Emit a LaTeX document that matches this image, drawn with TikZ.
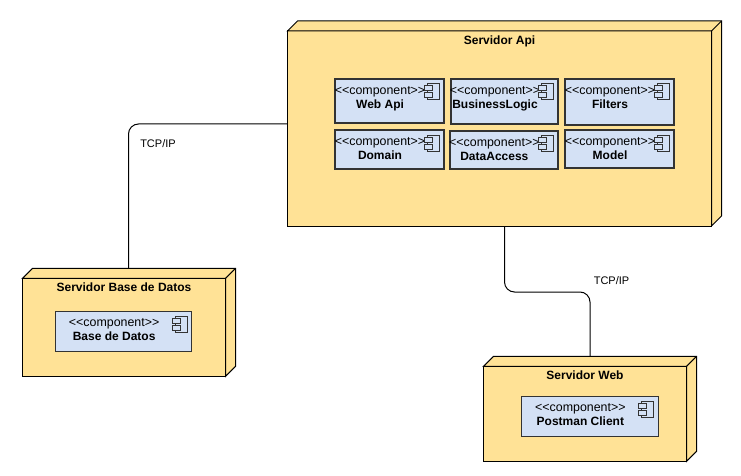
\documentclass[tikz,border=0pt]{standalone}
\usepackage{fontspec}
\setmainfont{Liberation Sans}
\usepackage{tikz}
\usetikzlibrary{positioning}
\definecolor{serverfill}{HTML}{FFE296}
\definecolor{compfill}{HTML}{D4E1F5}
\definecolor{compline}{HTML}{333333}
\newcommand{\stereo}{{\fontsize{12.4}{14}\selectfont <{}<component>{}>}}

\begin{document}
\begin{tikzpicture}[
  x=1pt, y=-1pt,
  server/.style={rectangle, draw=black, fill=serverfill, line width=1pt, outer sep=0pt, anchor=north west},
  servertitle/.style={anchor=north, inner sep=4pt, text height=9pt, text depth=3pt, font=\fontsize{12}{14}\selectfont\bfseries},
  comp/.style={rectangle, draw=compline, fill=compfill, line width=1pt, inner sep=0pt, outer sep=0pt, anchor=north west},
  thickcomp/.style={comp, line width=1.8pt},
  complabel/.style={anchor=north, align=center, inner sep=0pt, xshift=-9.5pt, yshift=-7pt, font=\fontsize{12}{14}\selectfont},
  conn/.style={draw=black, line width=1pt, rounded corners=10pt},
  linklabel/.style={font=\fontsize{11}{13}\selectfont}
]
\useasboundingbox (0,0) rectangle (741,476);

\coordinate (apileft) at (287.5,124);
\coordinate (bdtop) at (128.5,268.5);
\coordinate (apibottom) at (504.5,226);
\coordinate (bend) at (550,292);
\coordinate (webtop) at (590,357);

\draw[conn] (apileft) -| (bdtop);
\draw[conn] (apibottom) |- (bend) -| (webtop);

\node[server, minimum width=424pt, minimum height=195pt, label={[servertitle]north:Servidor Api}] (api) at (287.5,31) {};
\node[server, minimum width=203pt, minimum height=98pt, label={[servertitle]north:Servidor Base de Datos}] (bd) at (22.5,278.3) {};
\node[server, minimum width=203pt, minimum height=95pt, label={[servertitle]north:Servidor Web}] (web) at (483.5,366.3) {};

\foreach \n in {api,bd,web} {
  \draw[black, fill=serverfill, line width=1pt] (\n.north west) -- ++(10,-10) -- ([shift={(10,-10)}]\n.north east) -- ([shift={(10,-10)}]\n.south east) -- (\n.south east) -- (\n.north east) -- cycle;
  \draw[black, line width=1pt] (\n.north east) -- ([shift={(10,-10)}]\n.north east);
}

\node[thickcomp, minimum width=108.5pt, minimum height=44pt, label={[complabel]north:\stereo\\\textbf{Web Api}}] (webapi) at (335.3,79.3) {};
\node[thickcomp, minimum width=106.4pt, minimum height=44.7pt, label={[complabel]north:\stereo\\\textbf{BusinessLogic}}] (business) at (451.3,79.3) {};
\node[thickcomp, minimum width=108.4pt, minimum height=45.7pt, label={[complabel]north:\stereo\\\textbf{Filters}}] (filters) at (565.3,79.3) {};
\node[thickcomp, minimum width=108.4pt, minimum height=38.4pt, label={[complabel]north:\stereo\\\textbf{Domain}}] (domain) at (335.3,130.3) {};
\node[thickcomp, minimum width=107.7pt, minimum height=37.7pt, label={[complabel]north:\stereo\\\textbf{DataAccess}}] (dataaccess) at (450,131) {};
\node[thickcomp, minimum width=108.4pt, minimum height=37.4pt, label={[complabel]north:\stereo\\\textbf{Model}}] (model) at (565.3,130.3) {};
\node[comp, minimum width=135.7pt, minimum height=39.7pt, label={[complabel]north:\stereo\\\textbf{Base de Datos}}] (basedatos) at (55.8,311.5) {};
\node[comp, minimum width=136.3pt, minimum height=39.3pt, label={[complabel]north:\stereo\\\textbf{Postman Client}}] (postman) at (521.7,396.7) {};

\foreach \n in {webapi,business,filters,domain,dataaccess,model,basedatos,postman} {
  \begin{scope}[shift={(\n.north east)}, draw=compline, line width=1pt]
    \draw[fill=compfill] (-16.5,4.7) rectangle (-4.5,20.7);
    \draw[fill=compfill] (-19.5,6.7) rectangle (-11.5,11.7);
    \draw[fill=compfill] (-19.5,13.7) rectangle (-11.5,18.7);
  \end{scope}
}

\node[linklabel] (tcpbd) at (158,143.5) {TCP/IP};
\node[linklabel] (tcpweb) at (611.5,281) {TCP/IP};
\end{tikzpicture}
\end{document}
